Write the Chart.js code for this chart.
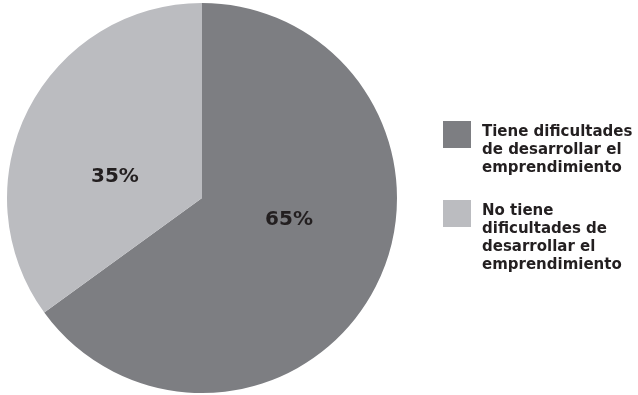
<!DOCTYPE html>
<html>
<head>
<meta charset="utf-8">
<script src="https://cdn.jsdelivr.net/npm/chart.js@4/dist/chart.umd.min.js"></script>
<style>
html,body{margin:0;padding:0;background:#fff;}
#wrap{width:638px;height:395px;position:relative;}
</style>
</head>
<body>
<div id="wrap"><canvas id="c" width="638" height="395"></canvas></div>
<script>
const categories = [
  ["Tiene dificultades", "de desarrollar el", "emprendimiento"],
  ["No tiene", "dificultades de", "desarrollar el", "emprendimiento"]
];
const values = [65, 35];
const valueLabels = ["65%", "35%"];
const colors = ["#7d7e82", "#bbbcc0"];

const FONT = "'DejaVu Sans', sans-serif";

const sliceLabels = {
  id: 'sliceLabels',
  afterDatasetsDraw(chart) {
    const ctx = chart.ctx;
    const meta = chart.getDatasetMeta(0);
    ctx.save();
    ctx.fillStyle = '#231f20';
    ctx.font = "bold 20px " + FONT;
    ctx.textAlign = 'center';
    ctx.textBaseline = 'middle';
    meta.data.forEach((arc, i) => {
      const p = arc.getProps(['x','y','startAngle','endAngle','outerRadius'], true);
      const mid = (p.startAngle + p.endAngle) / 2 - 13 * Math.PI / 180;
      const r = p.outerRadius * 0.46;
      ctx.fillText(valueLabels[i], p.x + Math.cos(mid) * r, p.y + Math.sin(mid) * r);
    });
    ctx.restore();
  }
};

const sideLegend = {
  id: 'sideLegend',
  afterDraw(chart) {
    const ctx = chart.ctx;
    ctx.save();
    const boxX = 443, box = 28, textX = 482, lineH = 18.3;
    const tops = [121, 200];
    ctx.font = "bold 15px " + FONT;
    ctx.textAlign = 'left';
    ctx.textBaseline = 'alphabetic';
    categories.forEach((lines, i) => {
      ctx.fillStyle = colors[i];
      ctx.fillRect(boxX, tops[i], box, box - 1);
      ctx.fillStyle = '#231f20';
      lines.forEach((t, j) => {
        ctx.fillText(t, textX, tops[i] + 14.5 + j * lineH);
      });
    });
    ctx.restore();
  }
};

new Chart(document.getElementById('c'), {
  type: 'pie',
  data: {
    labels: categories.map(l => l.join(' ')),
    datasets: [{
      data: values,
      backgroundColor: colors,
      borderWidth: 0
    }]
  },
  options: {
    responsive: false,
    animation: false,
    layout: { padding: { left: 6, top: 3, right: 240, bottom: 2 } },
    plugins: {
      legend: { display: false },
      tooltip: { enabled: false }
    }
  },
  plugins: [sliceLabels, sideLegend]
});
</script>
</body>
</html>
